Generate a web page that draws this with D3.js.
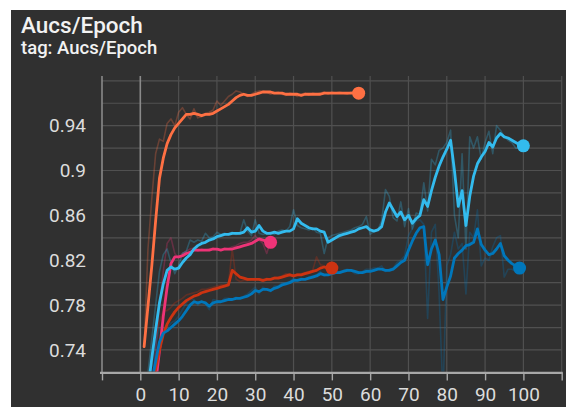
<!DOCTYPE html>
<html>
<head>
<meta charset="utf-8">
<script src="https://cdn.jsdelivr.net/npm/d3@7"></script>
<style>
  html, body { margin: 0; padding: 0; background: #ffffff; }
  svg { display: block; }
  text { font-family: Roboto, "Noto Sans", sans-serif; }
</style>
</head>
<body>
<svg id="chart" width="566" height="407"></svg>
<script>
// AUC per epoch for five training runs; values are listed from epoch 1.
const orangeSmooth = [0.743,0.779,0.815,0.855,0.893,0.911,0.924,0.932,0.938,0.942,
  0.946,0.950,0.950,0.951,0.950,0.949,0.950,0.950,0.951,0.953,
  0.955,0.957,0.959,0.962,0.965,0.967,0.968,0.967,0.967,0.968,
  0.969,0.970,0.970,0.970,0.969,0.969,0.969,0.968,0.968,0.968,
  0.968,0.967,0.968,0.968,0.968,0.968,0.968,0.969,0.969,0.969,
  0.969,0.969,0.969,0.969,0.969,0.969,0.969];
const orangeRaw = [0.742,0.83,0.875,0.915,0.928,0.926,0.942,0.946,0.94,0.952,
  0.956,0.950,0.946,0.955,0.947,0.948,0.951,0.952,0.954,0.962,
  0.958,0.962,0.966,0.968,0.971,0.970,0.968,0.966,0.968,0.970,
  0.971,0.971,0.970,0.968,0.969,0.970,0.968,0.967,0.969,0.968,
  0.966,0.968,0.969,0.967,0.969,0.968,0.969,0.970,0.968,0.970,
  0.969,0.970,0.969,0.968,0.970,0.969,0.969];

const pinkSmooth = [0.62,0.65,0.68,0.71,0.739,0.770,0.796,0.817,0.823,0.823,
  0.824,0.826,0.827,0.829,0.829,0.829,0.829,0.829,0.830,0.830,
  0.829,0.830,0.830,0.830,0.831,0.832,0.833,0.834,0.835,0.837,
  0.839,0.838,0.837,0.836];
const pinkRaw = [0.6,0.67,0.70,0.74,0.78,0.81,0.835,0.84,0.826,0.822,
  0.826,0.828,0.83,0.831,0.828,0.83,0.829,0.83,0.831,0.829,
  0.829,0.831,0.83,0.832,0.833,0.835,0.836,0.836,0.838,0.842,
  0.838,0.835,0.826,0.837];

const lightBlueSmooth = [0.66,0.705,0.733,0.758,0.782,0.799,0.811,0.814,0.812,0.813,
  0.818,0.822,0.825,0.830,0.833,0.835,0.836,0.838,0.839,0.841,
  0.842,0.843,0.843,0.844,0.844,0.844,0.845,0.849,0.845,0.846,
  0.851,0.846,0.844,0.844,0.845,0.844,0.845,0.846,0.846,0.848,
  0.857,0.853,0.851,0.849,0.848,0.848,0.846,0.845,0.836,0.838,
  0.840,0.842,0.843,0.844,0.845,0.846,0.848,0.849,0.850,0.847,
  0.846,0.847,0.850,0.863,0.871,0.865,0.859,0.863,0.856,0.860,
  0.853,0.857,0.860,0.874,0.868,0.882,0.894,0.904,0.912,0.919,
  0.927,0.900,0.868,0.882,0.851,0.877,0.895,0.906,0.912,0.917,
  0.925,0.921,0.929,0.933,0.930,0.929,0.927,0.925,0.923,0.922];
const lightBlueRaw = [0.62,0.72,0.75,0.78,0.81,0.825,0.83,0.818,0.808,0.815,
  0.826,0.828,0.838,0.836,0.838,0.837,0.844,0.84,0.841,0.845,
  0.843,0.844,0.843,0.845,0.843,0.844,0.856,0.846,0.842,0.856,
  0.844,0.843,0.844,0.845,0.843,0.846,0.847,0.846,0.85,0.865,
  0.851,0.849,0.848,0.847,0.849,0.845,0.844,0.826,0.84,0.842,
  0.843,0.844,0.845,0.846,0.847,0.849,0.85,0.852,0.859,0.843,
  0.846,0.847,0.855,0.883,0.877,0.858,0.855,0.872,0.85,0.866,
  0.848,0.862,0.861,0.889,0.864,0.91,0.905,0.918,0.92,0.925,
  0.936,0.86,0.84,0.915,0.83,0.93,0.92,0.93,0.91,0.925,
  0.935,0.915,0.94,0.936,0.93,0.927,0.925,0.92,0.92,0.921];

const blueSmooth = [0.64,0.68,0.712,0.730,0.747,0.755,0.757,0.760,0.763,0.766,
  0.770,0.775,0.780,0.783,0.782,0.783,0.782,0.779,0.782,0.783,
  0.783,0.784,0.785,0.785,0.786,0.786,0.787,0.788,0.790,0.793,
  0.792,0.794,0.794,0.793,0.795,0.796,0.798,0.799,0.800,0.802,
  0.802,0.803,0.803,0.804,0.805,0.806,0.808,0.807,0.807,0.808,
  0.809,0.809,0.810,0.811,0.811,0.810,0.809,0.809,0.810,0.810,
  0.811,0.812,0.812,0.811,0.811,0.812,0.815,0.818,0.820,0.829,
  0.837,0.844,0.849,0.850,0.816,0.830,0.838,0.825,0.785,0.796,
  0.806,0.822,0.826,0.829,0.833,0.834,0.836,0.848,0.834,0.829,
  0.825,0.826,0.830,0.835,0.824,0.820,0.817,0.815,0.813];
const blueRaw = [0.6,0.69,0.725,0.745,0.76,0.76,0.759,0.764,0.766,0.77,
  0.776,0.782,0.786,0.785,0.78,0.784,0.781,0.776,0.785,0.784,
  0.783,0.786,0.786,0.785,0.787,0.786,0.788,0.79,0.793,0.796,
  0.79,0.796,0.794,0.792,0.797,0.797,0.8,0.8,0.801,0.804,
  0.802,0.804,0.803,0.805,0.806,0.807,0.81,0.806,0.807,0.809,
  0.81,0.809,0.811,0.812,0.811,0.808,0.808,0.81,0.812,0.812,
  0.813,0.813,0.815,0.81,0.812,0.813,0.818,0.82,0.824,0.842,
  0.848,0.855,0.856,0.852,0.768,0.845,0.852,0.79,0.70,0.815,
  0.825,0.845,0.83,0.835,0.79,0.845,0.84,0.865,0.815,0.822,
  0.82,0.832,0.84,0.842,0.805,0.812,0.812,0.81,0.81];

const redSmooth = [0.62,0.66,0.70,0.723,0.740,0.754,0.763,0.769,0.774,0.778,
  0.781,0.784,0.786,0.788,0.789,0.791,0.792,0.793,0.794,0.795,
  0.796,0.797,0.798,0.811,0.808,0.805,0.804,0.803,0.803,0.803,
  0.803,0.802,0.803,0.803,0.804,0.804,0.805,0.806,0.807,0.806,
  0.807,0.807,0.808,0.809,0.810,0.811,0.813,0.814,0.813,0.813];
const redRaw = [0.6,0.68,0.73,0.75,0.765,0.775,0.775,0.778,0.782,0.784,
  0.786,0.789,0.79,0.791,0.792,0.794,0.794,0.795,0.796,0.797,
  0.798,0.798,0.799,0.83,0.803,0.801,0.802,0.802,0.803,0.803,
  0.803,0.801,0.804,0.803,0.805,0.805,0.806,0.808,0.808,0.805,
  0.808,0.808,0.809,0.81,0.811,0.823,0.816,0.815,0.812,0.813];

const xTicks = [-10, 0, 10, 20, 30, 40, 50, 60, 70, 80, 90, 100, 110];
const xTickLabels = ["", "0", "10", "20", "30", "40", "50", "60", "70", "80", "90", "100", ""];
const yGrid = [0.74, 0.76, 0.78, 0.80, 0.82, 0.84, 0.86, 0.88, 0.90, 0.92, 0.94, 0.96, 0.98];
const yTickLabels = [0.74, 0.78, 0.82, 0.86, 0.9, 0.94];

const runs = [
  { name: "pink",      color: "#ee3377", smooth: pinkSmooth,      raw: pinkRaw },
  { name: "red",       color: "#cc3311", smooth: redSmooth,       raw: redRaw },
  { name: "blue",      color: "#0077bb", smooth: blueSmooth,      raw: blueRaw },
  { name: "lightblue", color: "#33bbee", smooth: lightBlueSmooth, raw: lightBlueRaw },
  { name: "orange",    color: "#ff7043", smooth: orangeSmooth,    raw: orangeRaw }
];

const svg = d3.select("#chart");

// card background
svg.append("rect").attr("x", 11).attr("y", 10).attr("width", 555).attr("height", 397)
  .attr("fill", "#303030");

svg.append("text").attr("x", 21).attr("y", 33).attr("fill", "#f2f2f2")
  .attr("font-size", 22.5).attr("font-weight", 500).text("Aucs/Epoch");
svg.append("text").attr("x", 21).attr("y", 54).attr("fill", "#f2f2f2")
  .attr("font-size", 18.5).attr("font-weight", 500).text("tag: Aucs/Epoch");

const plot = { left: 102, right: 561.7, top: 76, bottom: 372.4 };
const x = d3.scaleLinear().domain([-10, 110]).range([plot.left, plot.right]);
const y = d3.scaleLinear().domain([0.72, 0.98]).range([plot.bottom, 80.8]);

// grid
const grid = svg.append("g");
grid.selectAll("line.h").data(yGrid).join("line")
  .attr("x1", plot.left).attr("x2", plot.right)
  .attr("y1", d => y(d)).attr("y2", d => y(d))
  .attr("stroke", "#505050").attr("stroke-width", 1.2);
grid.selectAll("line.v").data(xTicks).join("line")
  .attr("x1", d => x(d)).attr("x2", d => x(d))
  .attr("y1", plot.top).attr("y2", plot.bottom)
  .attr("stroke", d => (d <= 0 ? "#8a8a8a" : "#505050"))
  .attr("stroke-width", d => (d <= 0 ? 1.6 : 1.2));

svg.append("clipPath").attr("id", "plotClip").append("rect")
  .attr("x", plot.left).attr("y", plot.top)
  .attr("width", plot.right - plot.left).attr("height", plot.bottom - plot.top - 1);

const lines = svg.append("g").attr("clip-path", "url(#plotClip)");
const line = d3.line().x((d, i) => x(i + 1)).y(d => y(d));

lines.selectAll("path.raw").data(runs).join("path")
  .attr("d", r => line(r.raw))
  .attr("fill", "none").attr("stroke", r => r.color)
  .attr("stroke-width", 1.6).attr("stroke-opacity", 0.28)
  .attr("stroke-linejoin", "round");

lines.selectAll("path.smooth").data(runs).join("path")
  .attr("d", r => line(r.smooth))
  .attr("fill", "none").attr("stroke", r => r.color)
  .attr("stroke-width", 2.8).attr("stroke-linejoin", "round").attr("stroke-linecap", "round");

lines.selectAll("circle").data(runs).join("circle")
  .attr("cx", r => x(r.smooth.length))
  .attr("cy", r => y(r.smooth[r.smooth.length - 1]))
  .attr("r", 6.5).attr("fill", r => r.color);

// x axis
const xAxis = svg.append("g").attr("transform", `translate(0,${plot.bottom})`)
  .call(d3.axisBottom(x).tickValues(xTicks).tickSize(8).tickPadding(7)
    .tickFormat((d, i) => xTickLabels[i]));
xAxis.select(".domain").attr("stroke", "#a8a8a8").attr("stroke-width", 2.2)
  .attr("d", `M${plot.left - 2},0.5H${plot.right + 1}`);
xAxis.selectAll(".tick line").attr("stroke", "#a8a8a8").attr("stroke-width", 1.4);
xAxis.selectAll(".tick text").attr("fill", "#dcdcdc").attr("font-size", 19)
  .attr("font-family", "Roboto, sans-serif");

// y axis labels
const yAxis = svg.append("g").attr("transform", `translate(${plot.left},0)`)
  .call(d3.axisLeft(y).tickValues(yTickLabels).tickSize(0).tickPadding(16)
    .tickFormat(d3.format("~g")));
yAxis.select(".domain").remove();
yAxis.selectAll(".tick text").attr("fill", "#dcdcdc").attr("font-size", 19)
  .attr("font-family", "Roboto, sans-serif");
</script>
</body>
</html>
